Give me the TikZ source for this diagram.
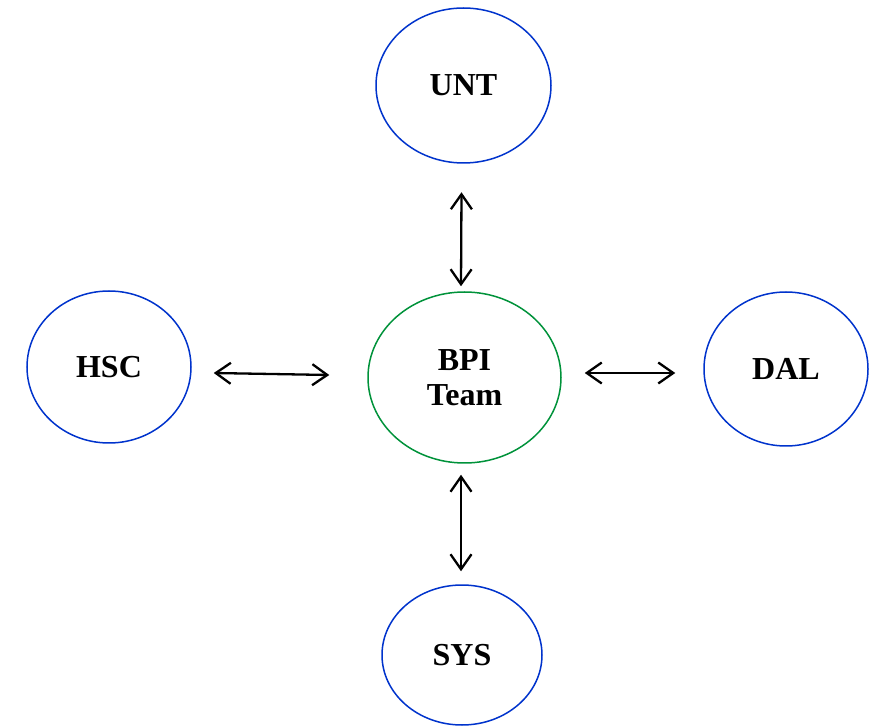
\documentclass[tikz,border=0pt]{standalone}
\usepackage{fontspec}
\setmainfont{Liberation Serif}
\usetikzlibrary{shapes.geometric,arrows.meta,calc}
\definecolor{eblue}{HTML}{0033CC}
\definecolor{egreen}{HTML}{00923A}
\tikzset{
  oval/.style={ellipse, draw=eblue, line width=1.5pt, inner sep=0pt,
    font=\fontsize{32}{35}\selectfont\bfseries, align=center},
  hub/.style={oval, draw=egreen},
  arr/.style={line width=2.3pt, {Straight Barb[length=15pt,width=21pt]}-{Straight Barb[length=15pt,width=21pt]}}
}
\begin{document}
\begin{tikzpicture}[x=1pt,y=-1pt]
\useasboundingbox (0,0) rectangle (871,727);
\node[oval, minimum width=175pt, minimum height=155pt] (unt) at (463.5,85.5) {UNT};
\node[oval, minimum width=164pt, minimum height=152pt] (hsc) at (109,367) {HSC};
\node[hub, minimum width=193pt, minimum height=171pt] (bpi) at (464.5,377.5) {BPI\\Team};
\node[oval, minimum width=164pt, minimum height=154pt] (dal) at (786,369) {DAL};
\node[oval, minimum width=160pt, minimum height=140pt] (sys) at (462,655) {SYS};
\draw[arr] ($(unt.south)+(-2,28.5)$) -- ($(bpi.north)+(-3.5,-5)$);
\draw[arr] ($(bpi.south)+(-3.5,11)$) -- ($(sys.north)+(-1,-13)$);
\draw[arr] ($(hsc.east)+(22,6)$) -- ($(bpi.west)+(-38,-2.5)$);
\draw[arr] ($(bpi.east)+(23,-4.5)$) -- ($(dal.west)+(-28,4)$);
\end{tikzpicture}
\end{document}
